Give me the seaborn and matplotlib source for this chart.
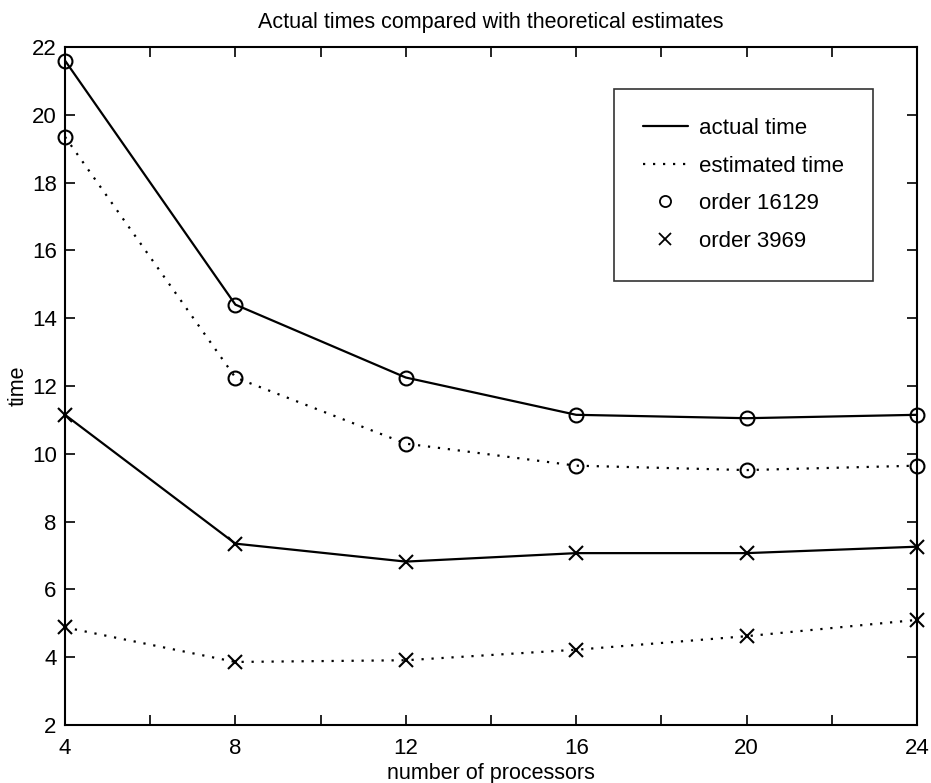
import matplotlib
matplotlib.use("Agg")
import matplotlib.pyplot as plt
from matplotlib.lines import Line2D
import seaborn as sns
import pandas as pd

processors = [4, 8, 12, 16, 20, 24]
actual_16129 = [21.6, 14.4, 12.25, 11.15, 11.05, 11.15]
estimated_16129 = [19.35, 12.25, 10.3, 9.65, 9.52, 9.65]
actual_3969 = [11.15, 7.35, 6.82, 7.07, 7.07, 7.26]
estimated_3969 = [4.88, 3.86, 3.91, 4.22, 4.62, 5.1]

x_ticks = [4, 6, 8, 10, 12, 14, 16, 18, 20, 22, 24]
x_labels = ["4", "", "8", "", "12", "", "16", "", "20", "", "24"]
y_ticks = [2, 4, 6, 8, 10, 12, 14, 16, 18, 20, 22]

sns.set_style("white")
plt.rcParams["font.family"] = ["Liberation Sans", "DejaVu Sans"]
plt.rcParams["text.color"] = "black"
plt.rcParams["axes.labelcolor"] = "black"
plt.rcParams["xtick.color"] = "black"
plt.rcParams["ytick.color"] = "black"

fig = plt.figure(figsize=(9.31, 7.83), dpi=100)
ax = fig.add_axes([65 / 931, 1 - 725 / 783, 852 / 931, 678 / 783])

dotted = (0, (1, 3.5))
series = [
    (actual_16129, "-", "o"),
    (estimated_16129, dotted, "o"),
    (actual_3969, "-", "x"),
    (estimated_3969, dotted, "x"),
]
for vals, ls, mk in series:
    df = pd.DataFrame({"processors": processors, "time": vals})
    sns.lineplot(data=df, x="processors", y="time", ax=ax, color="black",
                 linestyle=ls, linewidth=1.6, marker=mk, markersize=10,
                 markerfacecolor="none", markeredgecolor="black",
                 markeredgewidth=1.5, legend=False, clip_on=False, zorder=3)

ax.set_xlim(4, 24)
ax.set_ylim(2, 22)
ax.set_xticks(x_ticks)
ax.set_xticklabels(x_labels)
ax.set_yticks(y_ticks)
ax.tick_params(direction="in", length=7, width=1.2, labelsize=16,
               top=True, right=True, bottom=True, left=True)
ax.tick_params(axis="x", pad=9)
ax.tick_params(axis="y", pad=6)
for s in ax.spines.values():
    s.set_visible(True)
    s.set_linewidth(1.5)
    s.set_color("black")

ax.set_xlabel("number of processors", fontsize=15.5, labelpad=3)
ax.set_ylabel("time", fontsize=15.5, labelpad=2)
ax.set_title("Actual times compared with theoretical estimates", fontsize=15.5, pad=14)

handles = [
    Line2D([], [], color="black", linestyle="-", linewidth=1.6),
    Line2D([], [], color="black", linestyle=dotted, linewidth=1.6),
    Line2D([], [], color="black", linestyle="none", marker="o", markersize=8,
           markerfacecolor="none", markeredgewidth=1.3),
    Line2D([], [], color="black", linestyle="none", marker="x", markersize=8,
           markeredgewidth=1.3),
]
labels = ["actual time", "estimated time", "order 16129", "order 3969"]
leg = ax.legend(handles, labels, loc="upper right", bbox_to_anchor=(0.948, 0.938),
                fontsize=16, frameon=True, fancybox=False, borderpad=1.3,
                labelspacing=0.75, handlelength=2.0, handletextpad=0.5,
                borderaxespad=0)
leg.get_frame().set_edgecolor("black")
leg.get_frame().set_linewidth(1.2)

fig.savefig("out.png", dpi=100)
